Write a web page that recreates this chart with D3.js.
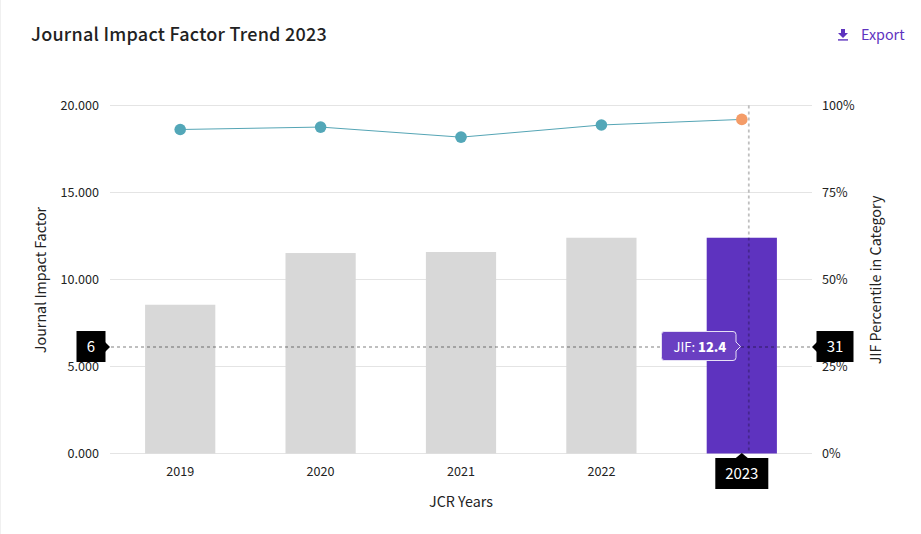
<!DOCTYPE html>
<html>
<head>
<meta charset="utf-8">
<script src="https://cdn.jsdelivr.net/npm/d3@7"></script>
<style>
  html, body { margin: 0; padding: 0; background: #fff; }
  svg { display: block; font-family: "Noto Sans CJK SC", "Open Sans", sans-serif; }
</style>
</head>
<body>
<div id="chart"></div>
<script>
var years = ["2019", "2020", "2021", "2022", "2023"];
var jifValues = [8.55, 11.52, 11.58, 12.4, 12.4];
var percentiles = [93.1, 93.8, 90.9, 94.4, 96.0];
var jifTicks = [0, 5, 10, 15, 20];
var percentTicks = [0, 25, 50, 75, 100];
var activeYear = "2023";
var crossJif = 6.12;
var crossPercent = 30.6;

var width = 921, height = 534;
var margin = { t: 105.5, b: 80.5, l: 110, r: 109 };
var innerW = width - margin.l - margin.r,
    innerH = height - margin.t - margin.b;

var fontStack = '"Noto Sans CJK SC", "Open Sans", sans-serif';

var svg = d3.select("#chart").append("svg")
  .attr("width", width).attr("height", height);

// faint card edge on the left
svg.append("line").attr("x1", 0.5).attr("x2", 0.5).attr("y1", 0).attr("y2", height)
  .attr("stroke", "#f0f0f0");

svg.append("text").attr("x", 31).attr("y", 40.5)
  .attr("font-size", 18).attr("font-weight", 500).attr("fill", "#222")
  .attr("letter-spacing", 0.25)
  .text("Journal Impact Factor Trend 2023");

// export link
var exportG = svg.append("g").attr("transform", "translate(843,35)");
exportG.append("path").attr("d", "M-2,-6H2V-2H5L0,3L-5,-2H-2Z").attr("fill", "#5e33bf");
exportG.append("rect").attr("x", -5).attr("y", 4.2).attr("width", 10).attr("height", 1.4).attr("fill", "#5e33bf");
svg.append("text").attr("x", 861).attr("y", 40).attr("font-size", 14.3)
  .attr("fill", "#5e33bf").text("Export");

var g = svg.append("g").attr("transform", "translate(" + margin.l + "," + margin.t + ")");

var x = d3.scaleBand().domain(years).range([0, innerW]).paddingInner(0.5).paddingOuter(0.25);
var yJif = d3.scaleLinear().domain([0, 20]).range([innerH, 0]);
var yPct = d3.scaleLinear().domain([0, 100]).range([innerH, 0]);
var cx = function(d) { return x(d) + x.bandwidth() / 2; };

// gridlines
g.selectAll(".grid").data(jifTicks).enter().append("line")
  .attr("x1", 0).attr("x2", innerW)
  .attr("y1", function(d) { return yJif(d); }).attr("y2", function(d) { return yJif(d); })
  .attr("stroke", "#e4e4e4");

// bars
g.selectAll(".bar").data(years).enter().append("rect")
  .attr("x", function(d) { return x(d); })
  .attr("width", x.bandwidth())
  .attr("y", function(d, i) { return yJif(jifValues[i]); })
  .attr("height", function(d, i) { return innerH - yJif(jifValues[i]); })
  .attr("fill", function(d) { return d === activeYear ? "#5e33bf" : "#d8d8d8"; });

// percentile line
var line = d3.line().x(function(d, i) { return cx(years[i]); }).y(function(d) { return yPct(d); });
g.append("path").datum(percentiles).attr("d", line)
  .attr("fill", "none").attr("stroke", "#55a5b5").attr("stroke-width", 1);
g.selectAll(".pt").data(percentiles).enter().append("circle")
  .attr("cx", function(d, i) { return cx(years[i]); })
  .attr("cy", function(d) { return yPct(d); })
  .attr("r", 5.8)
  .attr("fill", function(d, i) { return years[i] === activeYear ? "#f49c68" : "#53a7b8"; });

// axes
var axisLeft = d3.axisLeft(yJif).tickValues(jifTicks).tickFormat(d3.format(".3f")).tickSize(0).tickPadding(11);
var axisRight = d3.axisRight(yPct).tickValues(percentTicks).tickFormat(function(d) { return d + "%"; }).tickSize(0).tickPadding(10);
var axisBottom = d3.axisBottom(x).tickSize(0).tickPadding(14)
  .tickFormat(function(d) { return d === activeYear ? "" : d; }); // active year sits in the black box

var leftG = g.append("g").call(axisLeft);
var rightG = g.append("g").attr("transform", "translate(" + innerW + ",0)").call(axisRight);
var bottomG = g.append("g").attr("transform", "translate(0," + innerH + ")").call(axisBottom);
[leftG, rightG, bottomG].forEach(function(a) {
  a.attr("font-family", fontStack);
  a.select(".domain").remove();
  a.selectAll("text").attr("font-size", 12.6).attr("fill", "#222");
});

// axis titles
svg.append("text").attr("transform", "translate(46,280) rotate(-90)")
  .attr("text-anchor", "middle").attr("font-size", 14.3).attr("fill", "#222")
  .text("Journal Impact Factor");
svg.append("text").attr("transform", "translate(881,280) rotate(-90)")
  .attr("text-anchor", "middle").attr("font-size", 14.3).attr("fill", "#222")
  .text("JIF Percentile in Category");
svg.append("text").attr("x", 461).attr("y", 507)
  .attr("text-anchor", "middle").attr("font-size", 14.3).attr("fill", "#222")
  .text("JCR Years");

// crosshair
var crossX = cx(activeYear) + 7, crossY = yJif(crossJif);
g.append("line").attr("x1", -5).attr("x2", innerW + 5).attr("y1", crossY).attr("y2", crossY)
  .attr("stroke", "#000").attr("stroke-opacity", 0.25).attr("stroke-width", 1.8).attr("stroke-dasharray", "3 3");
g.append("line").attr("x1", crossX).attr("x2", crossX).attr("y1", 0).attr("y2", innerH)
  .attr("stroke", "#000").attr("stroke-opacity", 0.25).attr("stroke-width", 1.8).attr("stroke-dasharray", "3 3");

// black labels on the crosshair
function blackBox(px, py, w, h, notch, label, anchorX) {
  var p = svg.append("g");
  p.append("rect").attr("x", px).attr("y", py).attr("width", w).attr("height", h).attr("fill", "#000");
  p.append("path").attr("d", notch).attr("fill", "#000");
  p.append("text").attr("x", anchorX).attr("y", py + h / 2 + 5.5)
    .attr("text-anchor", "middle").attr("font-size", 15).attr("fill", "#fff").text(label);
}
var sy = margin.t + crossY;
blackBox(76.5, sy - 16, 29, 31, "M105,"+(sy-5)+"L110,"+sy+"L105,"+(sy+5)+"Z", d3.format(".0f")(crossJif), 91);
blackBox(816.5, sy - 16, 37, 31, "M817,"+(sy-5)+"L812,"+sy+"L817,"+(sy+5)+"Z", d3.format(".0f")(crossPercent), 835);
var bx = margin.l + cx(activeYear);
blackBox(bx - 26.5, 458, 53, 31, "M"+(bx-6)+",458L"+bx+",453L"+(bx+6)+",458Z", activeYear, bx);

// tooltip
var tip = svg.append("g").attr("transform", "translate(661,331)");
tip.append("path")
  .attr("d", "M3,0.5H72Q75,0.5 75,3.5V11L79.5,15.5L75,20V26.5Q75,29.5 72,29.5H3Q0.5,29.5 0.5,26.5V3.5Q0.5,0.5 3,0.5Z")
  .attr("fill", "#6a3fc2").attr("stroke", "#e6e0f5").attr("stroke-width", 1);
var tipText = tip.append("text").attr("x", 12.5).attr("y", 20.5).attr("font-size", 13).attr("fill", "#fff");
tipText.append("tspan").text("JIF: ");
tipText.append("tspan").attr("font-weight", 900).text(jifValues[years.indexOf(activeYear)]);
</script>
</body>
</html>
